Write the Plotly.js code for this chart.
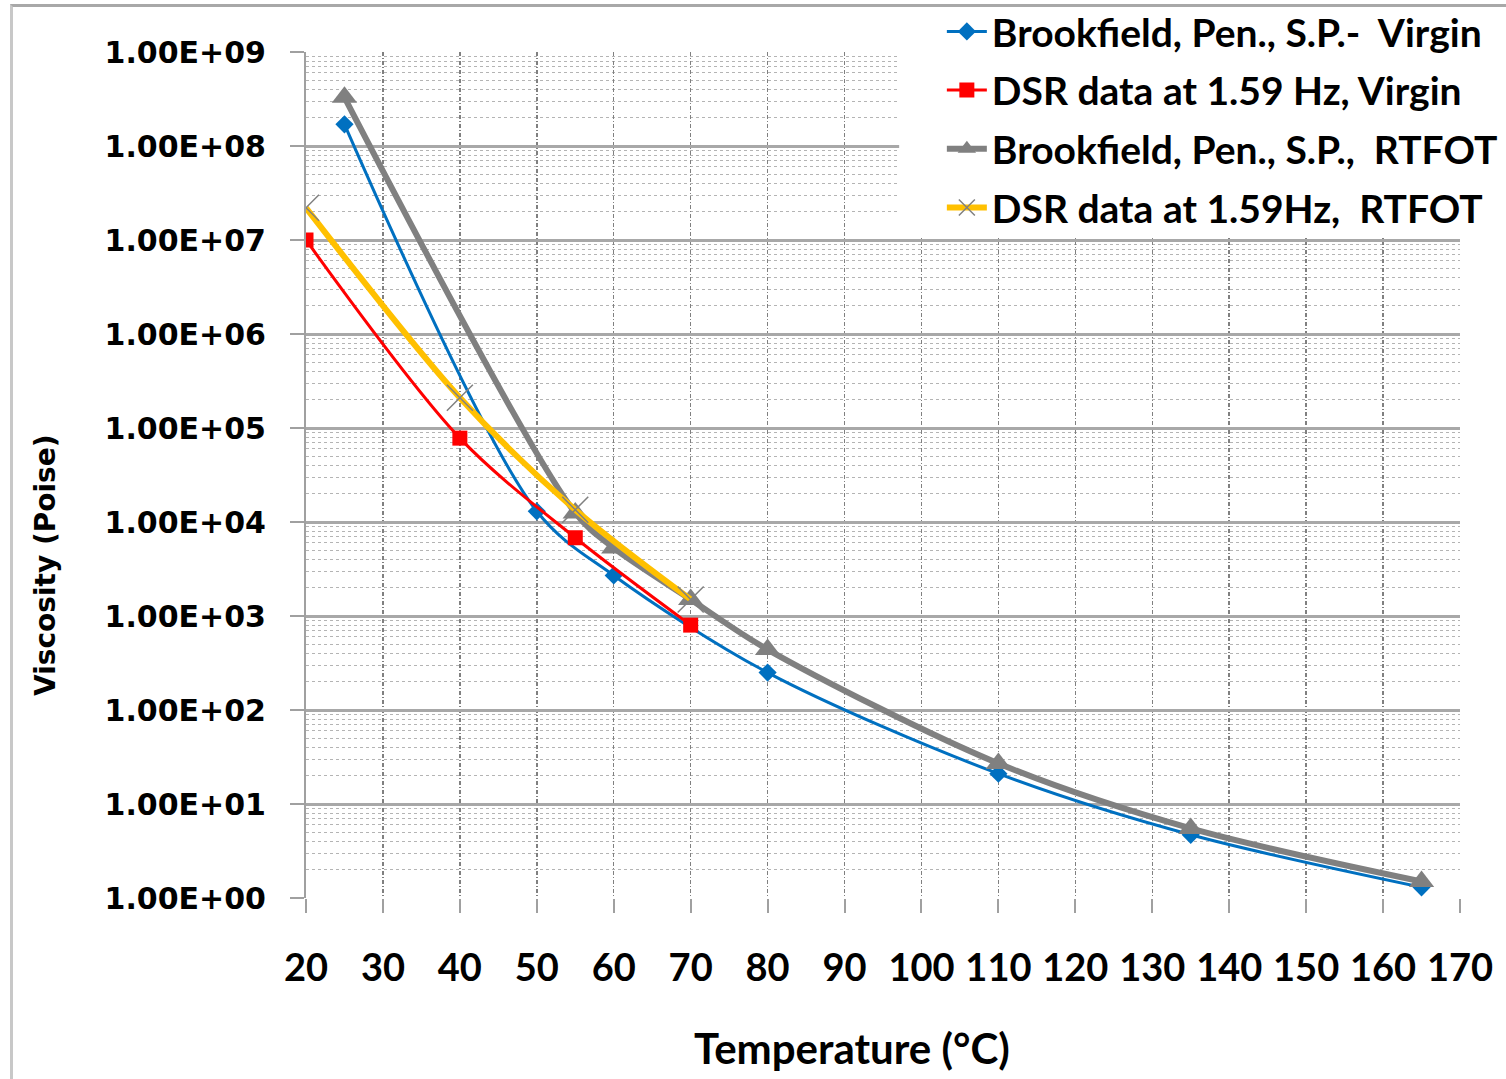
<!DOCTYPE html>
<html>
<head>
<meta charset="utf-8">
<script src="https://cdn.plot.ly/plotly-3.0.1.min.js"></script>
<style>
  html, body { margin: 0; padding: 0; background: #fff; }
  #wrap { position: relative; width: 1506px; height: 1079px; }
  #chart { width: 1506px; height: 1079px; }
  #frame { position: absolute; left: 10px; top: 4px; right: 0; bottom: 0;
           border-left: 3px solid #c8c8c8; border-top: 3px solid #a8a8a8; pointer-events: none; }
</style>
</head>
<body>
<div id="wrap"><div id="chart"></div><div id="frame"></div></div>
<script>
// ---- data ----
const seriesNames = [
  "Brookfield, Pen., S.P.-\u00a0 Virgin",
  "DSR data at 1.59 Hz, Virgin",
  "Brookfield, Pen., S.P.,\u00a0 RTFOT",
  "DSR data at 1.59Hz,\u00a0 RTFOT"
];
const tempBrookVirgin = [25, 50, 60, 80, 110, 135, 165];
const viscBrookVirgin = [1.7e8, 1.3e4, 2.7e3, 250, 21, 4.7, 1.3];
const tempDsrVirgin   = [20, 40, 55, 70];
const viscDsrVirgin   = [1.0e7, 7.8e4, 6.8e3, 800];
const tempBrookRtfot  = [25, 55, 60, 70, 80, 110, 135, 165];
const viscBrookRtfot  = [3.3e8, 1.25e4, 5.3e3, 1.5e3, 440, 27, 5.5, 1.5];
const tempDsrRtfot    = [20, 40, 55, 70];
const viscDsrRtfot    = [2.2e7, 2.1e5, 1.35e4, 1.5e3];

const yTickVals = [1, 10, 100, 1e3, 1e4, 1e5, 1e6, 1e7, 1e8, 1e9];
const yTickText = ["1.00E+00","1.00E+01","1.00E+02","1.00E+03","1.00E+04",
                   "1.00E+05","1.00E+06","1.00E+07","1.00E+08","1.00E+09"];
const xTickVals = [20,30,40,50,60,70,80,90,100,110,120,130,140,150,160,170];
const xTitle = "Temperature (°C)";
const yTitle = "Viscosity (Poise)";

// ---- traces ----
const traces = [
  { x: tempBrookVirgin, y: viscBrookVirgin, name: seriesNames[0], legendgroup: "a",
    mode: "lines+markers", line: { color: "#0070C0", width: 3, shape: "spline", smoothing: 0.9 },
    marker: { symbol: "diamond", size: 14, color: "#0070C0" } },
  { x: tempDsrVirgin, y: viscDsrVirgin, name: seriesNames[1], legendgroup: "b",
    mode: "lines+markers", line: { color: "#FF0000", width: 3, shape: "spline", smoothing: 0.9 },
    marker: { symbol: "square", size: 15, color: "#FF0000" } },
  { x: tempBrookRtfot, y: viscBrookRtfot, name: seriesNames[2], legendgroup: "c",
    mode: "lines+markers", line: { color: "#808080", width: 6, shape: "spline", smoothing: 0.9 },
    marker: { symbol: "triangle-up", size: 22, color: "#808080" } },
  { x: tempDsrRtfot, y: viscDsrRtfot, name: seriesNames[3], legendgroup: "d",
    mode: "lines+markers", line: { color: "#FFC000", width: 6, shape: "spline", smoothing: 0.9 },
    marker: { symbol: "x-thin-open", size: 26, color: "#808080", line: { width: 1.5 } } }
];

const layout = {
  width: 1506, height: 1079,
  margin: { l: 306, r: 46, t: 52, b: 181, autoexpand: false },
  paper_bgcolor: "#ffffff", plot_bgcolor: "#ffffff",
  showlegend: true,
  legend: {
    x: 0.551, xanchor: "left", y: 1.062, yanchor: "top",
    bgcolor: "rgba(255,255,255,0)", borderwidth: 0,
    font: { family: "Lato, 'Liberation Sans', sans-serif", size: 39, color: "#000", weight: "bold" },
    tracegroupgap: 5, itemwidth: 40
  },
  shapes: [
    { type: "rect", xref: "paper", yref: "paper", x0: 0.514, x1: 1.0, y0: 0.7825, y1: 1.06,
      fillcolor: "#ffffff", line: { width: 0 }, layer: "above" }
  ],
  xaxis: {
    type: "linear", range: [20, 170], autorange: false,
    tickmode: "array", tickvals: xTickVals,
    ticks: "outside", ticklen: 14, tickwidth: 2, tickcolor: "#a0a0a0",
    ticklabelstandoff: 22,
    tickfont: { family: "Lato, 'Liberation Sans', sans-serif", size: 38, color: "#000", weight: "bold" },
    showgrid: true, gridcolor: "#808080", gridwidth: 1.5, griddash: "4px,2px,1px,2px",
    showline: false, zeroline: false
  },
  yaxis: {
    type: "log", range: [0, 9], autorange: false,
    tickmode: "array", tickvals: yTickVals, ticktext: yTickText,
    ticks: "outside", ticklen: 14, tickwidth: 2, tickcolor: "#a0a0a0",
    ticklabelstandoff: 18,
    tickfont: { family: "'DejaVu Sans', Verdana, sans-serif", size: 30, color: "#000", weight: "bold" },
    showgrid: true, gridcolor: "#a8a8a8", gridwidth: 3,
    minor: { dtick: "D1", showgrid: true, gridcolor: "#b4b4b4", gridwidth: 1, griddash: "3px,3px", ticks: "" },
    showline: true, linecolor: "#a0a0a0", linewidth: 2, zeroline: false
  },
  annotations: [
    { text: xTitle, xref: "paper", yref: "paper", x: (852 - 306) / 1154, y: -(1048 - 898) / 846,
      xanchor: "center", yanchor: "middle", showarrow: false,
      font: { family: "Lato, 'Liberation Sans', sans-serif", size: 42, color: "#000", weight: "bold" } },
    { text: yTitle, xref: "paper", yref: "paper", x: (45 - 306) / 1154, y: (898 - 565) / 846,
      xanchor: "center", yanchor: "middle", textangle: -90, showarrow: false,
      font: { family: "'DejaVu Sans', Verdana, sans-serif", size: 28, color: "#000", weight: "bold" } }
  ]
};

Plotly.newPlot("chart", traces, layout, { displayModeBar: false, staticPlot: true });
</script>
</body>
</html>
